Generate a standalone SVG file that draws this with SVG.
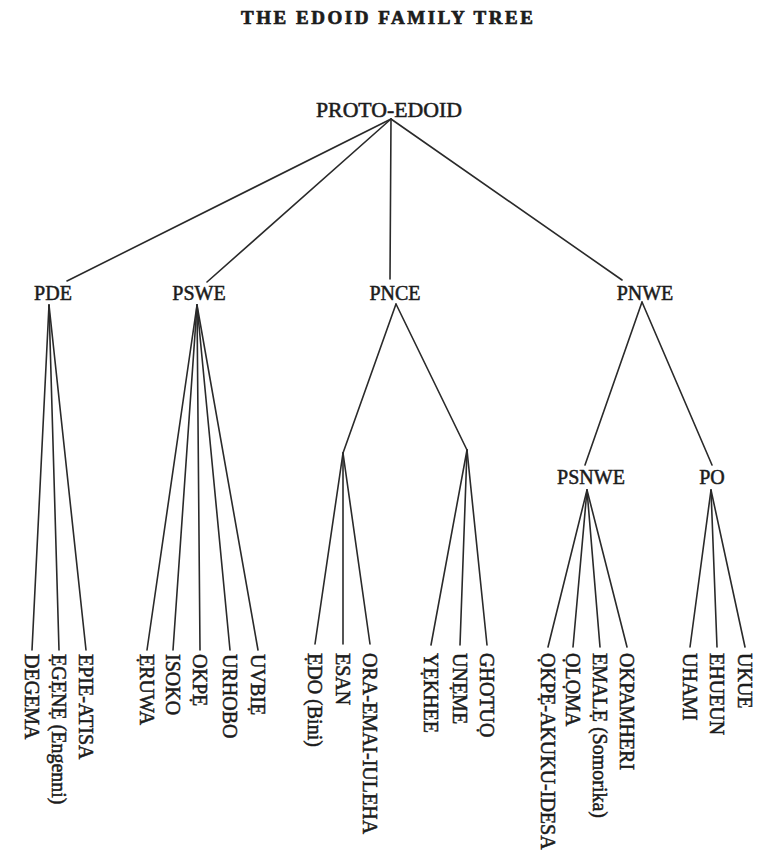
<svg xmlns="http://www.w3.org/2000/svg" width="758" height="855" viewBox="0 0 758 855">
<style>
text{font-family:"Liberation Serif","Times New Roman",serif;fill:#1c1c1c;stroke:#1c1c1c;stroke-width:0.5}
.t{font-size:19px;font-weight:bold;stroke-width:0.7}
.n{font-size:20px;text-anchor:middle}
.l{font-size:20px}
#connectors line{stroke:#2a2a2a;stroke-width:1.6;stroke-linecap:round}
</style>
<rect width="758" height="855" fill="#fff"/>
<text class="t" x="241" y="24" textLength="292" lengthAdjust="spacing">THE EDOID FAMILY TREE</text>
<g id="connectors">
<line x1="391" y1="119" x2="67" y2="281"/>
<line x1="391" y1="119" x2="207" y2="282"/>
<line x1="391" y1="119" x2="390" y2="279"/>
<line x1="391" y1="119" x2="622" y2="280"/>
<line x1="49" y1="305" x2="32" y2="650"/>
<line x1="49" y1="305" x2="59" y2="650"/>
<line x1="49" y1="305" x2="86" y2="650"/>
<line x1="197" y1="305" x2="147" y2="650"/>
<line x1="197" y1="305" x2="173" y2="650"/>
<line x1="197" y1="305" x2="200" y2="650"/>
<line x1="197" y1="305" x2="230" y2="650"/>
<line x1="197" y1="305" x2="258" y2="650"/>
<line x1="396" y1="304" x2="343" y2="453"/>
<line x1="396" y1="304" x2="467" y2="450"/>
<line x1="343" y1="453" x2="315" y2="644"/>
<line x1="343" y1="453" x2="343" y2="644"/>
<line x1="343" y1="453" x2="370" y2="644"/>
<line x1="467" y1="450" x2="431" y2="645"/>
<line x1="467" y1="450" x2="460" y2="645"/>
<line x1="467" y1="450" x2="487" y2="645"/>
<line x1="642" y1="302" x2="585" y2="465"/>
<line x1="642" y1="302" x2="712" y2="465"/>
<line x1="587" y1="490" x2="548" y2="647"/>
<line x1="587" y1="490" x2="573" y2="647"/>
<line x1="587" y1="490" x2="600" y2="647"/>
<line x1="587" y1="490" x2="627" y2="647"/>
<line x1="711" y1="490" x2="690" y2="647"/>
<line x1="711" y1="490" x2="717" y2="647"/>
<line x1="711" y1="490" x2="745" y2="647"/>
</g>
<g id="proto-edoid"><text class="n" x="389" y="117" textLength="146" lengthAdjust="spacingAndGlyphs">PROTO-EDOID</text></g>
<g id="pde"><text class="n" x="53" y="300">PDE</text></g>
<g id="pswe"><text class="n" x="199" y="300">PSWE</text></g>
<g id="pnce"><text class="n" x="395" y="300">PNCE</text></g>
<g id="pnwe"><text class="n" x="645" y="300">PNWE</text></g>
<g id="psnwe"><text class="n" x="591" y="484">PSNWE</text></g>
<g id="po"><text class="n" x="712" y="484">PO</text></g>
<g id="degema"><text class="l" transform="translate(25,654) rotate(90)">DEGEMA</text></g>
<g id="egene"><text class="l" transform="translate(52,654) rotate(90)">ẸGẸNẸ (Engenni)</text></g>
<g id="epie"><text class="l" transform="translate(79,654) rotate(90)">EPIE-ATISA</text></g>
<g id="eruwa"><text class="l" transform="translate(140,654) rotate(90)">ẸRUWA</text></g>
<g id="isoko"><text class="l" transform="translate(166,654) rotate(90)">ISOKO</text></g>
<g id="okpe"><text class="l" transform="translate(193,654) rotate(90)">OKPẸ</text></g>
<g id="urhobo"><text class="l" transform="translate(223,654) rotate(90)">URHOBO</text></g>
<g id="uvbie"><text class="l" transform="translate(251,654) rotate(90)">UVBIẸ</text></g>
<g id="edo"><text class="l" transform="translate(308,653) rotate(90)">ẸDO (Bini)</text></g>
<g id="esan"><text class="l" transform="translate(336,653) rotate(90)">ESAN</text></g>
<g id="ora"><text class="l" transform="translate(363,653) rotate(90)">ORA-EMAI-IULEHA</text></g>
<g id="yekhee"><text class="l" transform="translate(424,653) rotate(90)">YẸKHEE</text></g>
<g id="uneme"><text class="l" transform="translate(453,653) rotate(90)">UNẸME</text></g>
<g id="ghotuo"><text class="l" transform="translate(480,653) rotate(90)">GHOTUỌ</text></g>
<g id="okpe-akuku"><text class="l" transform="translate(541,653) rotate(90)">ỌKPẸ-AKUKU-IDESA</text></g>
<g id="oloma"><text class="l" transform="translate(566,653) rotate(90)">ỌLỌMA</text></g>
<g id="emale"><text class="l" transform="translate(593,653) rotate(90)">EMALẸ (Somorika)</text></g>
<g id="okpamheri"><text class="l" transform="translate(620,653) rotate(90)">OKPAMHERI</text></g>
<g id="uhami"><text class="l" transform="translate(683,653) rotate(90)">UHAMI</text></g>
<g id="ehueun"><text class="l" transform="translate(710,653) rotate(90)">EHUEUN</text></g>
<g id="ukue"><text class="l" transform="translate(738,653) rotate(90)">UKUE</text></g>
</svg>
